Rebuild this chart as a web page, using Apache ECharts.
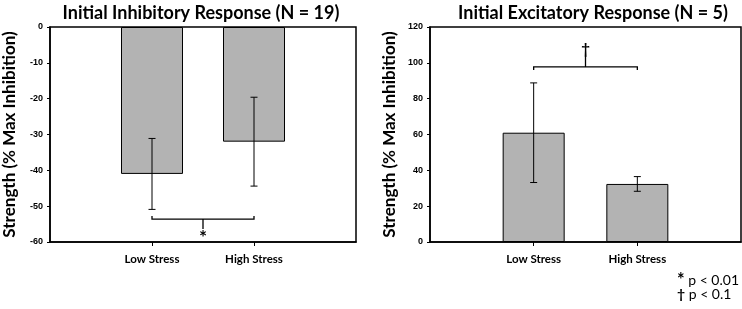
<!DOCTYPE html>
<html>
<head>
<meta charset="utf-8">
<script src="https://cdn.jsdelivr.net/npm/echarts@6/dist/echarts.min.js"></script>
<style>
html,body{margin:0;padding:0;background:#fff;}
#c{width:742px;height:309px;}
</style>
</head>
<body>
<div id="c"></div>
<script>
// ---- data ----
const categories = ['', 'Low Stress', 'High Stress', ''];
const inhibMeans = [-41.0, -32.0];
const inhibErr = [9.9, 12.4];
const excitMeans = [61.0, 32.4];
const excitErr = [27.8, 4.1];
const inhibTicks = [-60, -50, -40, -30, -20, -10, 0];
const excitTicks = [0, 20, 40, 60, 80, 100, 120];
const sigLevels = [-53.6, 97.7];
const sigSymbols = ['*', '\u2020'];
const titles = ['Initial Inhibitory Response (N = 19)', 'Initial Excitatory Response (N = 5)'];
const yTitle = 'Strength (% Max Inhibition)';
const footnotes = [['*', 'p < 0.01'], ['\u2020', 'p < 0.1']];

// ---- helpers ----
const TITLE_FONT = 'Lato';
const pad = arr => [null, ...arr, null];
const errData = (m, e) => m.map((v, i) => [i + 1, v, e[i]]);

function errRender(params, api) {
  const x = api.value(0), m = api.value(1), e = api.value(2);
  const top = api.coord([x, m + e]);
  const bot = api.coord([x, m - e]);
  const cw = 3.5;
  const st = {stroke: '#000', lineWidth: 1};
  return {type: 'group', children: [
    {type: 'line', shape: {x1: top[0], y1: top[1], x2: bot[0], y2: bot[1]}, style: st},
    {type: 'line', shape: {x1: top[0] - cw, y1: top[1], x2: top[0] + cw, y2: top[1]}, style: st},
    {type: 'line', shape: {x1: bot[0] - cw, y1: bot[1], x2: bot[0] + cw, y2: bot[1]}, style: st}
  ]};
}

function bracketRender(dir, sym) {
  // dir: +1 = stem goes down (pixels), ends go up ; -1 = opposite
  return function (params, api) {
    const lvl = api.value(0);
    const a = api.coord([1, lvl]);
    const b = api.coord([2, lvl]);
    const mx = (a[0] + b[0]) / 2;
    const st = {stroke: '#000', lineWidth: 1.3};
    const tick = 3, stem = 10;
    const isStar = sym === '*';
    return {type: 'group', children: [
      {type: 'polyline', shape: {points: [[a[0], a[1] - dir * tick], [a[0], a[1]], [b[0], b[1]], [b[0], b[1] - dir * tick]]}, style: {stroke: '#000', lineWidth: 1.3, fill: null}},
      {type: 'line', shape: {x1: mx, y1: a[1], x2: mx, y2: a[1] + dir * stem}, style: st},
      {type: 'text', x: mx, y: a[1] + dir * (stem + (dir > 0 ? 9 : 8)), style: {text: sym, fill: '#000', font: 'bold ' + (isStar ? 19 : 15) + 'px ' + TITLE_FONT, align: 'center', verticalAlign: 'middle'}}
    ]};
  };
}

const grids = [
  {left: 48, top: 27, width: 308, height: 215},
  {left: 430, top: 27, width: 311, height: 215}
];

function xAxis(gi) {
  return {
    type: 'category', gridIndex: gi, data: categories, boundaryGap: false,
    axisLine: {onZero: false, lineStyle: {color: '#000', width: 1.5}},
    axisTick: {show: true, length: 4, interval: (i) => i === 1 || i === 2, lineStyle: {color: '#000', width: 1}},
    axisLabel: {interval: (i) => i === 1 || i === 2, color: '#000', fontFamily: TITLE_FONT, fontWeight: 'bold', fontSize: 11.5, margin: 11},
    splitLine: {show: false}
  };
}
function yAxis(gi, ticks) {
  return {
    type: 'value', gridIndex: gi, min: ticks[0], max: ticks[ticks.length - 1], interval: ticks[1] - ticks[0],
    name: yTitle, nameLocation: 'middle', nameRotate: 90, nameGap: 32,
    nameTextStyle: {color: '#000', fontFamily: TITLE_FONT, fontWeight: 'bold', fontSize: 17},
    axisLine: {show: true, lineStyle: {color: '#000', width: 1.5}},
    axisTick: {show: true, length: 3, lineStyle: {color: '#000', width: 1}},
    axisLabel: {color: '#000', fontFamily: 'Liberation Sans', fontWeight: 'bold', fontSize: 9, margin: 7},
    splitLine: {show: false}
  };
}

const barStyle = {color: '#b3b3b3', borderColor: '#000', borderWidth: 1};
const titleStyle = {fontFamily: TITLE_FONT, fontWeight: 'bold', fontSize: 18, color: '#000'};

const option = {
  animation: false,
  backgroundColor: '#fff',
  title: [
    {text: titles[0], left: 196, top: -1, textAlign: 'center', textStyle: titleStyle},
    {text: titles[1], left: 588, top: -1, textAlign: 'center', textStyle: titleStyle}
  ],
  grid: grids.map(g => Object.assign({show: true, borderColor: '#000', borderWidth: 1.5, backgroundColor: 'transparent'}, g)),
  xAxis: [xAxis(0), xAxis(1)],
  yAxis: [yAxis(0, inhibTicks), yAxis(1, excitTicks)],
  series: [
    {type: 'bar', xAxisIndex: 0, yAxisIndex: 0, data: pad(inhibMeans), barWidth: 62, itemStyle: barStyle, z: 2},
    {type: 'bar', xAxisIndex: 1, yAxisIndex: 1, data: pad(excitMeans), barWidth: 62, itemStyle: barStyle, z: 2},
    {type: 'custom', xAxisIndex: 0, yAxisIndex: 0, data: errData(inhibMeans, inhibErr), renderItem: errRender, z: 5},
    {type: 'custom', xAxisIndex: 1, yAxisIndex: 1, data: errData(excitMeans, excitErr), renderItem: errRender, z: 5},
    {type: 'custom', xAxisIndex: 0, yAxisIndex: 0, data: [[sigLevels[0]]], renderItem: bracketRender(1, sigSymbols[0]), z: 5, clip: false},
    {type: 'custom', xAxisIndex: 1, yAxisIndex: 1, data: [[sigLevels[1]]], renderItem: bracketRender(-1, sigSymbols[1]), z: 5, clip: false}
  ],
  graphic: footnotes.map((f, i) => ({
    type: 'text', left: 677, top: 271 + i * 16,
    style: {
      text: '{s|' + f[0] + '} ' + f[1],
      font: '14px ' + TITLE_FONT, fill: '#000',
      rich: {s: {fontFamily: TITLE_FONT, fontWeight: 'bold', fontSize: f[0] === '*' ? 18 : 14, fill: '#000', verticalAlign: 'bottom'}}
    }
  }))
};

const chart = echarts.init(document.getElementById('c'), null, {renderer: 'canvas'});
chart.setOption(option);
</script>
</body>
</html>
